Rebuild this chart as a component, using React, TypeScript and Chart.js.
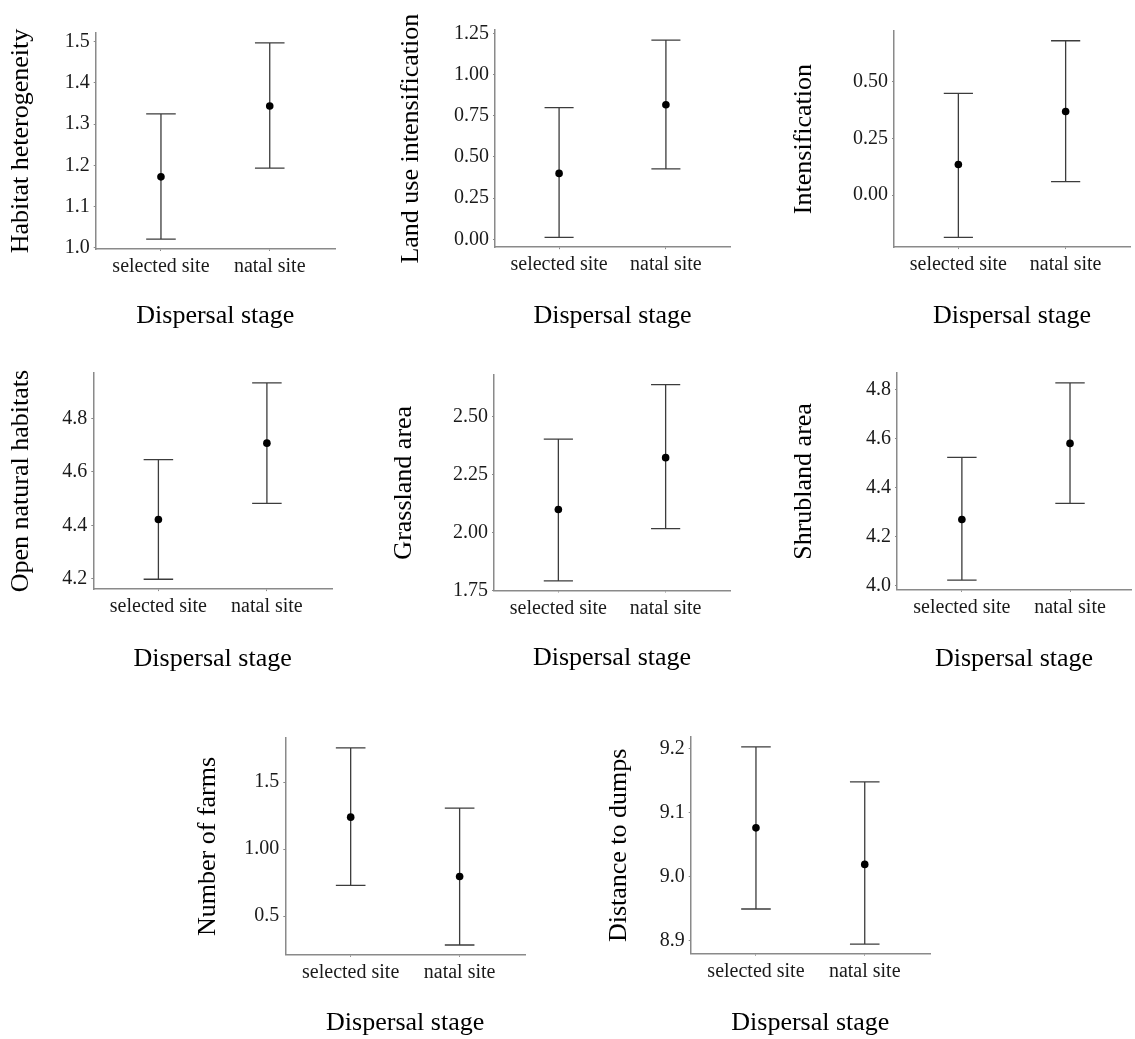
import React, { useEffect, useRef } from "react";
import { Chart, registerables } from "chart.js";
Chart.register(...registerables);

// ---------- data ----------
const categories = ["selected site", "natal site"];
const xAxisTitle = "Dispersal stage";

const yTitles = [
  "Habitat heterogeneity",
  "Land use intensification",
  "Intensification",
  "Open natural habitats",
  "Grassland area",
  "Shrubland area",
  "Number of farms",
  "Distance to dumps",
];

const habitatMean = [1.172, 1.344];
const habitatLow = [1.021, 1.193];
const habitatHigh = [1.325, 1.497];
const habitatTicks = [1.0, 1.1, 1.2, 1.3, 1.4, 1.5];
const habitatTickLabels = ["1.0", "1.1", "1.2", "1.3", "1.4", "1.5"];
const habitatRange = [0.997, 1.521];

const landUseMean = [0.4, 0.817];
const landUseLow = [0.012, 0.427];
const landUseHigh = [0.799, 1.209];
const landUseTicks = [0, 0.25, 0.5, 0.75, 1.0, 1.25];
const landUseTickLabels = ["0.00", "0.25", "0.50", "0.75", "1.00", "1.25"];
const landUseRange = [-0.048, 1.269];

const intensMean = [0.135, 0.369];
const intensLow = [-0.187, 0.059];
const intensHigh = [0.449, 0.682];
const intensTicks = [0, 0.25, 0.5];
const intensTickLabels = ["0.00", "0.25", "0.50"];
const intensRange = [-0.23, 0.725];

const openMean = [4.422, 4.708];
const openLow = [4.198, 4.482];
const openHigh = [4.646, 4.934];
const openTicks = [4.2, 4.4, 4.6, 4.8];
const openTickLabels = ["4.2", "4.4", "4.6", "4.8"];
const openRange = [4.161, 4.971];

const grassMean = [2.099, 2.323];
const grassLow = [1.791, 2.016];
const grassHigh = [2.403, 2.638];
const grassTicks = [1.75, 2.0, 2.25, 2.5];
const grassTickLabels = ["1.75", "2.00", "2.25", "2.50"];
const grassRange = [1.749, 2.68];

const shrubMean = [4.27, 4.58];
const shrubLow = [4.023, 4.336];
const shrubHigh = [4.523, 4.827];
const shrubTicks = [4.0, 4.2, 4.4, 4.6, 4.8];
const shrubTickLabels = ["4.0", "4.2", "4.4", "4.6", "4.8"];
const shrubRange = [3.983, 4.867];

const farmsMean = [1.239, 0.796];
const farmsLow = [0.729, 0.284];
const farmsHigh = [1.756, 1.306];
const farmsTicks = [0.5, 1.0, 1.5];
const farmsTickLabels = ["0.5", "1.00", "1.5"];
const farmsRange = [0.21, 1.83];

const dumpsMean = [9.0763, 9.0193];
const dumpsLow = [8.9497, 8.895];
const dumpsHigh = [9.2025, 9.148];
const dumpsTicks = [8.9, 9.0, 9.1, 9.2];
const dumpsTickLabels = ["8.9", "9.0", "9.1", "9.2"];
const dumpsRange = [8.88, 9.218];

const panelMeans = [habitatMean, landUseMean, intensMean, openMean, grassMean, shrubMean, farmsMean, dumpsMean];
const panelLows = [habitatLow, landUseLow, intensLow, openLow, grassLow, shrubLow, farmsLow, dumpsLow];
const panelHighs = [habitatHigh, landUseHigh, intensHigh, openHigh, grassHigh, shrubHigh, farmsHigh, dumpsHigh];
const panelTicks = [habitatTicks, landUseTicks, intensTicks, openTicks, grassTicks, shrubTicks, farmsTicks, dumpsTicks];
const panelTickLabels = [
  habitatTickLabels, landUseTickLabels, intensTickLabels, openTickLabels,
  grassTickLabels, shrubTickLabels, farmsTickLabels, dumpsTickLabels,
];
const panelRanges = [habitatRange, landUseRange, intensRange, openRange, grassRange, shrubRange, farmsRange, dumpsRange];

// ---------- layout (page pixels) ----------
// L,T,R,B = plot area; yt = y-title centre x; xt = x-title centre y; xMax = x-axis end
const layouts = [
  { L: 95.7, T: 33, R: 338, B: 249, yt: 21.7, xt: 316.4, xMax: 2.6 },
  { L: 495, T: 30.2, R: 733, B: 247.2, yt: 411.7, xt: 316.4, xMax: 2.6 },
  { L: 894, T: 30.6, R: 1133, B: 247.1, yt: 805, xt: 316.4, xMax: 2.6 },
  { L: 93.3, T: 372.5, R: 335, B: 589.1, yt: 21.7, xt: 659.5, xMax: 2.6 },
  { L: 494, T: 374.5, R: 732.7, B: 590.5, yt: 405, xt: 658, xMax: 2.6 },
  { L: 897, T: 372.8, R: 1135, B: 589.9, yt: 805, xt: 659.5, xMax: 2.564 },
  { L: 285.3, T: 737.8, R: 527.7, B: 954.9, yt: 208.3, xt: 1023, xMax: 2.6 },
  { L: 690.7, T: 736.7, R: 932.7, B: 953.7, yt: 620, xt: 1023, xMax: 2.6 },
];

const FONT = "'Liberation Serif', 'Times New Roman', serif";
const CAP = 0.136;
const AXIS_COLOR = "#8a8a8a";
const BAR_COLOR = "#3c3c3c";

const errorBarPlugin = {
  id: "errorBars",
  beforeDatasetsDraw(chart: any) {
    const { ctx, scales } = chart;
    const xs = scales.x;
    const ys = scales.y;
    chart.data.datasets.forEach((ds: any) => {
      if (!ds.errLo) return;
      ds.data.forEach((p: any, i: number) => {
        const x = xs.getPixelForValue(p.x);
        const xl = xs.getPixelForValue(p.x - CAP);
        const xr = xs.getPixelForValue(p.x + CAP);
        const yl = ys.getPixelForValue(ds.errLo[i]);
        const yh = ys.getPixelForValue(ds.errHi[i]);
        ctx.save();
        ctx.strokeStyle = BAR_COLOR;
        ctx.lineWidth = 1.3;
        ctx.beginPath();
        ctx.moveTo(x, yl);
        ctx.lineTo(x, yh);
        ctx.moveTo(xl, yl);
        ctx.lineTo(xr, yl);
        ctx.moveTo(xl, yh);
        ctx.lineTo(xr, yh);
        ctx.stroke();
        ctx.restore();
      });
    });
  },
};

function Panel({ idx }: { idx: number }) {
  const ref = useRef<HTMLCanvasElement | null>(null);
  const lay = layouts[idx];
  const TITLE_SIZE = 26;
  const titleHalf = (TITLE_SIZE * 1.2) / 2;
  const left = Math.round(lay.yt - titleHalf - 4);
  const top = Math.round(lay.T - 16);
  const bottom = Math.min(1039, Math.round(lay.xt + titleHalf + 4));
  const right = Math.min(1135, Math.ceil(lay.R) + 1);
  const width = right - left;
  const height = bottom - top;
  const yw = lay.L - left;
  const xh = bottom - lay.B;
  const padTop = lay.T - top;
  const padRight = right - lay.R;
  const xTitlePadBottom = bottom - (lay.xt + titleHalf);

  useEffect(() => {
    const canvas = ref.current;
    if (!canvas) return;
    const ticks = panelTicks[idx];
    const labels = panelTickLabels[idx];
    const range = panelRanges[idx];
    const chart = new Chart(canvas, {
      type: "scatter",
      data: {
        datasets: [
          {
            data: panelMeans[idx].map((m, i) => ({ x: i + 1, y: m })),
            errLo: panelLows[idx],
            errHi: panelHighs[idx],
            pointRadius: 3.8,
            pointBackgroundColor: "#000",
            pointBorderColor: "#000",
            pointBorderWidth: 0,
            showLine: false,
          } as any,
        ],
      },
      options: {
        responsive: false,
        animation: false,
        devicePixelRatio: 1,
        events: [],
        layout: { padding: { top: padTop, right: padRight, left: 0, bottom: 0 } },
        plugins: { legend: { display: false }, tooltip: { enabled: false } },
        scales: {
          x: {
            type: "linear",
            min: 0.4,
            max: lay.xMax,
            afterBuildTicks: (s: any) => {
              s.ticks = [{ value: 1 }, { value: 2 }];
            },
            afterFit: (s: any) => {
              s.height = xh;
            },
            ticks: {
              callback: (_v: any, i: number) => categories[i],
              font: { family: FONT, size: 20 },
              color: "#1a1a1a",
              padding: 4,
              maxRotation: 0,
              autoSkip: false,
            },
            grid: { drawOnChartArea: false, drawTicks: true, tickLength: 2, color: AXIS_COLOR, lineWidth: 1 },
            border: { display: true, color: AXIS_COLOR, width: 1.5 },
            title: {
              display: true,
              text: xAxisTitle,
              font: { family: FONT, size: TITLE_SIZE },
              color: "#000",
              padding: { top: 0, bottom: xTitlePadBottom },
            },
          },
          y: {
            type: "linear",
            min: range[0],
            max: range[1],
            afterBuildTicks: (s: any) => {
              s.ticks = ticks.map((v) => ({ value: v }));
            },
            afterFit: (s: any) => {
              s.width = yw;
            },
            ticks: {
              callback: (_v: any, i: number) => labels[i],
              font: { family: FONT, size: 20 },
              color: "#1a1a1a",
              padding: 4,
              autoSkip: false,
            },
            grid: { drawOnChartArea: false, drawTicks: true, tickLength: 2, color: AXIS_COLOR, lineWidth: 1 },
            border: { display: true, color: AXIS_COLOR, width: 1.5 },
            title: {
              display: true,
              text: yTitles[idx],
              font: { family: FONT, size: TITLE_SIZE },
              color: "#000",
              padding: { top: 4, bottom: 0 },
            },
          },
        },
      } as any,
      plugins: [errorBarPlugin],
    });
    return () => chart.destroy();
  }, [idx]);

  return (
    <canvas
      ref={ref}
      width={width}
      height={height}
      style={{ position: "absolute", left, top, width, height }}
    />
  );
}

export default function App() {
  return (
    <div
      style={{
        position: "fixed",
        left: 0,
        top: 0,
        width: 1135,
        height: 1039,
        overflow: "hidden",
        background: "#fff",
      }}
    >
      {layouts.map((_, i) => (
        <Panel key={i} idx={i} />
      ))}
    </div>
  );
}
